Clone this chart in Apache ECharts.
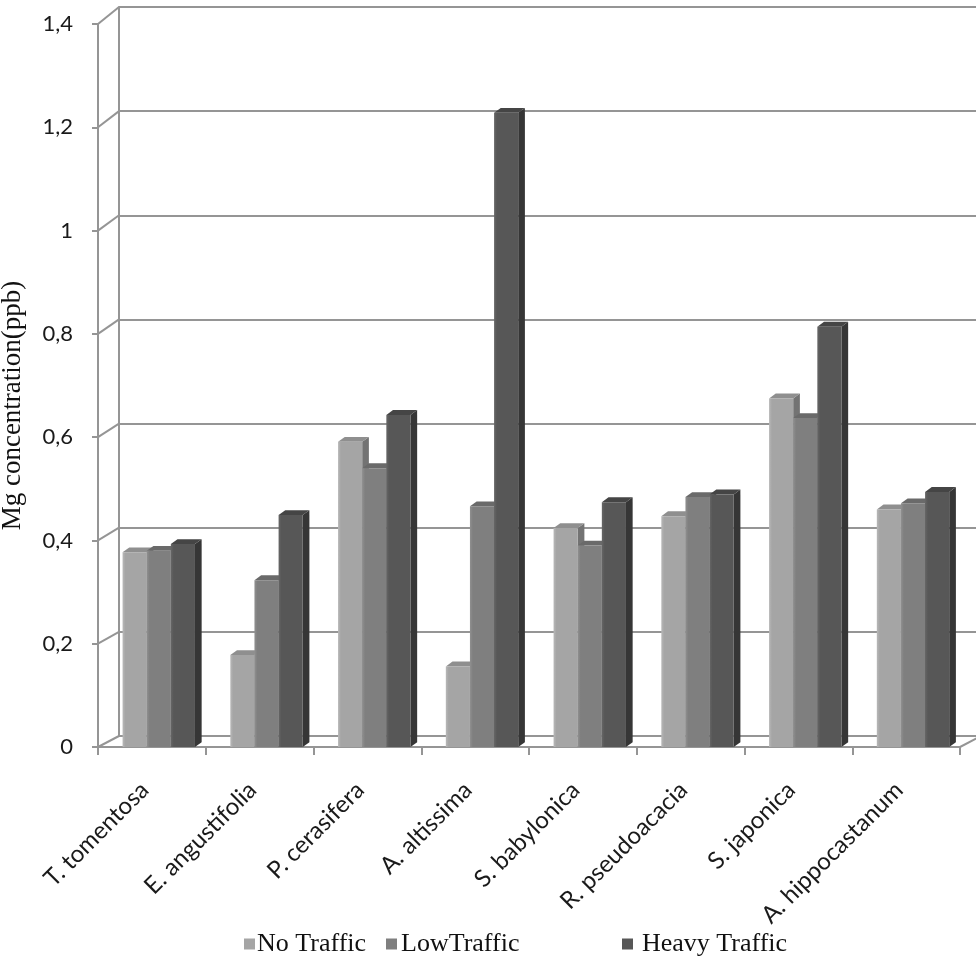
<!DOCTYPE html>
<html>
<head>
<meta charset="utf-8">
<title>Mg concentration by species and traffic level</title>
<script src="https://cdn.jsdelivr.net/npm/echarts@6/dist/echarts.min.js"></script>
<style>
  html, body { margin: 0; padding: 0; background: #ffffff; }
  #main { width: 976px; height: 967px; }
</style>
</head>
<body>
<div id="main"></div>
<script>
// Species along the category axis
const categories = [
  'T. tomentosa', 'E. angustifolia', 'P. cerasifera', 'A. altissima',
  'S. babylonica', 'R. pseudoacacia', 'S. japonica', 'A. hippocastanum'
];

// Mg concentration (ppb) per traffic level
const noTraffic    = [0.377, 0.178, 0.591, 0.156, 0.424, 0.447, 0.675, 0.460];
const lowTraffic   = [0.380, 0.323, 0.540, 0.466, 0.390, 0.484, 0.637, 0.472];
const heavyTraffic = [0.393, 0.449, 0.643, 1.228, 0.474, 0.489, 0.814, 0.494];

const seriesNames = ['No Traffic', 'LowTraffic', 'Heavy Traffic'];

// Value-axis ticks
const tickValues = [0, 0.2, 0.4, 0.6, 0.8, 1.0, 1.2, 1.4];

// Layout of the pseudo-3D box: front plane and back wall
const FRONT = { left: 98, top: 24, width: 862, height: 723 };
const BACK  = { left: 119, top: 7, width: 862, height: 729 };

const LINE = '#959595';

const shades = [
  { front: '#a5a5a5', edge: '#b8b8b8', top: '#8f8f8f', side: '#737373' },
  { front: '#7f7f7f', edge: '#909090', top: '#6a6a6a', side: '#555555' },
  { front: '#575757', edge: '#666666', top: '#454545', side: '#363636' }
];

function barRenderer(slot) {
  const shade = shades[slot];
  return function (params, api) {
    const cat = api.value(0);
    const val = api.value(1);
    const foot = api.coord([cat, 0]);
    const head = api.coord([cat, val]);
    const band = api.size([1, 0])[0];
    const w = band * 0.224;
    const x = foot[0] - band * 0.272 + slot * w;
    const dx = band * 0.062;
    const dy = -band * 0.045;
    const yT = head[1];
    const yB = foot[1];
    return {
      type: 'group',
      children: [
        {
          type: 'polygon',
          shape: { points: [[x + w, yT], [x + w + dx, yT + dy], [x + w + dx, yB + dy], [x + w, yB]] },
          style: { fill: shade.side }
        },
        {
          type: 'polygon',
          shape: { points: [[x, yT], [x + dx, yT + dy], [x + w + dx, yT + dy], [x + w, yT]] },
          style: { fill: shade.top }
        },
        {
          type: 'rect',
          shape: { x: x, y: yT, width: w, height: yB - yT },
          style: {
            fill: new echarts.graphic.LinearGradient(0, 0, 1, 0, [
              { offset: 0, color: shade.edge },
              { offset: 0.12, color: shade.front },
              { offset: 1, color: shade.front }
            ])
          }
        }
      ]
    };
  };
}

function toPairs(values) {
  return values.map((v, i) => [i, v]);
}

const valueSets = [noTraffic, lowTraffic, heavyTraffic];

const option = {
  backgroundColor: '#ffffff',
  animation: false,
  grid: [
    {
      left: FRONT.left, top: FRONT.top, width: FRONT.width, height: FRONT.height,
      containLabel: false, outerBoundsMode: 'none'
    },
    {
      left: BACK.left, top: BACK.top, width: BACK.width, height: BACK.height,
      containLabel: false, outerBoundsMode: 'none'
    }
  ],
  legend: seriesNames.map((name, i) => ({
    data: [name],
    left: [244, 386, 622][i],
    top: 931,
    icon: 'rect',
    itemWidth: 11,
    itemHeight: 11,
    itemGap: 0,
    padding: 0,
    textStyle: {
      fontFamily: '"Liberation Serif", "DejaVu Serif", serif',
      fontSize: 26,
      color: '#111',
      padding: [0, 0, 0, [-3, -1, 4][i]]
    }
  })),
  xAxis: [
    {
      type: 'category',
      gridIndex: 0,
      data: categories,
      boundaryGap: true,
      axisLine: { show: true, lineStyle: { color: LINE, width: 2 } },
      axisTick: { show: true, length: 8, lineStyle: { color: LINE, width: 2 } },
      axisLabel: {
        rotate: 45,
        margin: 32,
        interval: 0,
        fontFamily: 'Lato, "Noto Sans", sans-serif',
        fontSize: 24,
        color: '#1a1a1a',
        padding: [0, 10, 0, 0]
      },
      splitLine: { show: false }
    },
    {
      type: 'category',
      gridIndex: 1,
      data: categories,
      show: false
    }
  ],
  yAxis: [
    {
      type: 'value',
      gridIndex: 0,
      min: 0,
      max: 1.4,
      interval: 0.2,
      name: 'Mg concentration(ppb)',
      nameLocation: 'middle',
      nameGap: 72,
      nameRotate: 90,
      nameTextStyle: {
        fontFamily: '"Liberation Serif", "DejaVu Serif", serif',
        fontSize: 27,
        color: '#111',
        padding: [0, 40, 0, 0]
      },
      axisLine: { show: true, lineStyle: { color: LINE, width: 2 } },
      axisTick: { show: true, length: 6, lineStyle: { color: LINE, width: 2 } },
      axisLabel: {
        margin: 25,
        fontFamily: 'Lato, "Noto Sans", sans-serif',
        fontSize: 22,
        color: '#1a1a1a',
        formatter: v => String(parseFloat(v.toFixed(1))).replace('.', ',')
      },
      splitLine: { show: false }
    },
    {
      type: 'value',
      gridIndex: 1,
      min: 0,
      max: 1.4,
      interval: 0.2,
      axisLine: { show: true, lineStyle: { color: LINE, width: 2 } },
      axisTick: { show: false },
      axisLabel: { show: false },
      splitLine: { show: true, lineStyle: { color: LINE, width: 2 } }
    }
  ],
  series: seriesNames.map((name, i) => ({
    name: name,
    type: 'custom',
    xAxisIndex: 0,
    yAxisIndex: 0,
    itemStyle: { color: shades[i].front },
    renderItem: barRenderer(i),
    data: toPairs(valueSets[i]),
    z: 5
  }))
};

const chart = echarts.init(document.getElementById('main'));
chart.setOption(option);

// Depth edges joining the front plane to the back wall
const edges = tickValues.map(v => {
  const yf = chart.convertToPixel({ yAxisIndex: 0 }, v);
  const yb = chart.convertToPixel({ yAxisIndex: 1 }, v);
  return {
    type: 'line',
    shape: { x1: FRONT.left, y1: yf, x2: BACK.left, y2: yb },
    style: { stroke: LINE, lineWidth: 2 },
    z: 1
  };
});
const y0f = chart.convertToPixel({ yAxisIndex: 0 }, 0);
const y0b = chart.convertToPixel({ yAxisIndex: 1 }, 0);
edges.push({
  type: 'line',
  shape: {
    x1: FRONT.left + FRONT.width, y1: y0f,
    x2: BACK.left + BACK.width, y2: y0b
  },
  style: { stroke: LINE, lineWidth: 2 },
  z: 1
});
chart.setOption({ graphic: edges });
</script>
</body>
</html>
